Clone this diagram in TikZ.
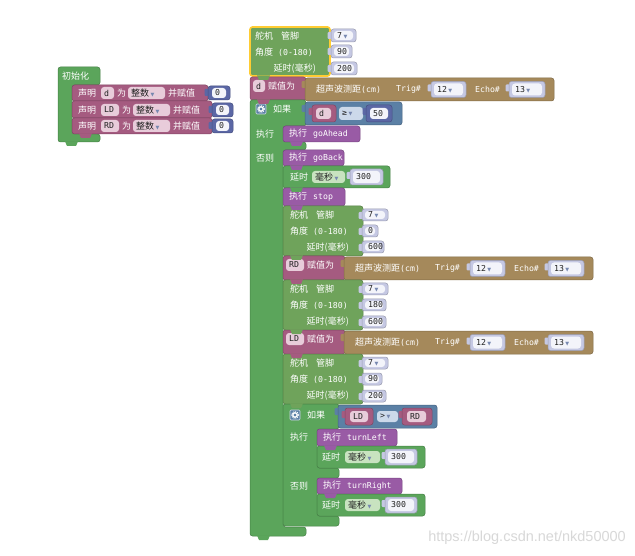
\documentclass[tikz,border=0pt]{standalone}
\usepackage{fontspec}
\setmainfont{DejaVu Sans Mono}
\newfontfamily\cjkfont{Noto Sans CJK SC}
\newfontfamily\symfont{DejaVu Sans}
\newfontfamily\wmfont{Liberation Sans}
\definecolor{grn}{HTML}{5BA55B}
\definecolor{srv}{HTML}{6FA35B}
\definecolor{prc}{HTML}{995BA5}
\definecolor{vr}{HTML}{A55B80}
\definecolor{tn}{HTML}{A5895B}
\definecolor{lgc}{HTML}{5B80A5}
\definecolor{mth}{HTML}{5B67A5}
\definecolor{pil}{HTML}{C5C8E3}
\definecolor{fld}{HTML}{F3F4FA}
\definecolor{vfld}{HTML}{E8CCDA}
\definecolor{gfld}{HTML}{C8E3C0}
\definecolor{cfld}{HTML}{CCD9EA}
\definecolor{arr}{HTML}{7788B0}
\definecolor{txt}{HTML}{222222}
\definecolor{yel}{HTML}{FFCC33}
\definecolor{wm}{HTML}{D8D8D8}
\newcommand\zh[1]{{\cjkfont\fontsize{9}{9}\selectfont #1}}
\newcommand\dd{{\symfont\fontsize{5}{5}\selectfont\textcolor{arr}{▼}}}
\newcounter{nd}
\newcommand\Lab[3]{\stepcounter{nd}\node[lbl] (n\arabic{nd}) at ({#1},{#2}) {#3};}
\newcommand\LabK[3]{\stepcounter{nd}\node[lblk] (n\arabic{nd}) at ({#1},{#2}) {#3};}
\newcommand\LabE[3]{\stepcounter{nd}\node[lble] (n\arabic{nd}) at ({#1},{#2}) {#3};}
\newcommand\Blk[5]{\filldraw[fill=#1, draw=#1!78!black, line width=.5pt, rounded corners=2.5pt] ({#2},{#3}) rectangle ({#4},{#5});}
\newcommand\Bump[3]{\fill[#1, rounded corners=1pt] ({#2-3.5},{#3+3}) rectangle ({#2+1},{#3+10});}
\newcommand\Btab[3]{\fill[#1] ({#2+7},{#3-0.6}) -- ({#2+9},{#3+4}) -- ({#2+18},{#3+4}) -- ({#2+20},{#3-0.6}) -- cycle;}
\newcommand\Fld[6]{\fill[#1, rounded corners=3pt] ({#2},{#3}) rectangle ({#4},{#5});
  \LabK{#2+3}{(#3+#5)/2}{#6}}
\newcommand\Pill[5]{\Bump{pil}{#1}{#2}\Blk{pil}{#1}{#2}{#3}{#4}\Fld{fld}{#1+3}{#2+2}{#3-3}{#4-2}{#5}}
\newcommand\Gear[2]{\filldraw[fill=lgc, draw=white!70!lgc, line width=.6pt, rounded corners=1pt] ({#1},{#2}) rectangle ({#1+10},{#2+10});
  \draw[white, line width=1.3pt] ({#1+5},{#2+5}) circle (2.2pt);
  \draw[white, line width=1pt, dash pattern=on 1pt off 1pt] ({#1+5},{#2+5}) circle (3.4pt);}
\newcommand\Servo[2]{% x y (top-left)
  \Blk{srv}{#1}{#2}{#1+80}{#2+50}
  \Lab{#1+7}{#2+9}{\zh{舵机}\hspace{8pt}\zh{管脚}}
  \Lab{#1+7}{#2+25}{\zh{角度} (0-180)}
  \LabE{#1+66}{#2+42}{\zh{延时(毫秒)}}}
\newcommand\Sonar[2]{% x y of tan block top-left
  \Bump{tn}{#1}{#2}\Blk{tn}{#1}{#2}{#1+249}{#2+23}
  \Lab{#1+11}{#2+11.5}{\zh{超声波测距}(cm)}
  \Lab{#1+91}{#2+11.5}{Trig\#}
  \Pill{#1+126}{#2+3.5}{#1+161}{#2+19.5}{12\,\dd}
  \Lab{#1+170}{#2+11.5}{Echo\#}
  \Pill{#1+204}{#2+3.5}{#1+240}{#2+19.5}{13\,\dd}}
\begin{document}
\begin{tikzpicture}[x=1pt,y=-1pt,
  lbl/.style={anchor=west, inner sep=0pt, text=white, font=\fontsize{8.2}{9}\selectfont},
  lblk/.style={lbl, text=txt},
  lble/.style={lbl, anchor=east}]
\fill[white] (0,0) rectangle (635,556);
\useasboundingbox (0,0) rectangle (635,556);

% ---------- init block ----------
\filldraw[fill=grn, draw=grn!78!black, line width=.5pt, rounded corners=2.5pt]
  (58,67) -- (100,67) -- (100,85) -- (72,85) -- (72,134) -- (100,134) -- (100,142) -- (58,142) -- cycle;
\Lab{62}{76}{\zh{初始化}}
\Blk{vr}{72}{85}{208}{101}
\Lab{78}{93}{\zh{声明}}
\Fld{vfld}{101}{87}{114}{99}{d}
\Lab{117}{93}{\zh{为}}
\Fld{vfld}{128}{87}{165}{99}{\zh{整数}\,\dd}
\Lab{168}{93}{\zh{并赋值}}
\Bump{mth}{208}{86}\Blk{mth}{208}{86}{230}{100}
\Fld{fld}{212}{88}{226}{98}{0}
\Blk{vr}{72}{101}{212}{118}
\Lab{78}{110}{\zh{声明}}
\Fld{vfld}{101}{104}{119}{116}{LD}
\Lab{122}{110}{\zh{为}}
\Fld{vfld}{133}{104}{170}{116}{\zh{整数}\,\dd}
\Lab{173}{110}{\zh{并赋值}}
\Bump{mth}{212}{103}\Blk{mth}{212}{103}{233}{117}
\Fld{fld}{216}{105}{229}{115}{0}
\Blk{vr}{72}{118}{212}{134}
\Lab{78}{126}{\zh{声明}}
\Fld{vfld}{101}{120}{119}{132}{RD}
\Lab{122}{126}{\zh{为}}
\Fld{vfld}{133}{120}{170}{132}{\zh{整数}\,\dd}
\Lab{173}{126}{\zh{并赋值}}
\Bump{mth}{212}{119}\Blk{mth}{212}{119}{233}{133}
\Fld{fld}{216}{121}{229}{131}{0}

% ---------- top servo (selected) ----------
\Blk{srv}{250}{27}{330}{76}
\draw[yel, line width=1.6pt, rounded corners=2.5pt] (250,27) rectangle (330,76);
\Lab{255}{36}{\zh{舵机}\hspace{8pt}\zh{管脚}}
\Lab{255}{52}{\zh{角度} (0-180)}
\LabE{316}{69}{\zh{延时(毫秒)}}
\Pill{331}{29}{356}{42}{7\,\dd}
\Pill{331}{45}{352}{58}{90}
\Pill{331}{62}{357}{75}{200}

% ---------- d = sonar ----------
\Blk{vr}{250}{77}{306}{100}
\Fld{vfld}{253}{80}{265}{92}{d}
\Lab{268}{86}{\zh{赋值为}}
\Sonar{305}{78}

% ---------- outer if ----------
\filldraw[fill=grn, draw=grn!78!black, line width=.5pt, rounded corners=2.5pt]
  (250,100) -- (306,100) -- (306,126) -- (283,126) -- (283,142) -- (306,142) -- (306,150)
  -- (283,150) -- (283,527) -- (306,527) -- (306,536) -- (250,536) -- cycle;
\Gear{256}{104}
\Lab{273}{109}{\zh{如果}}
\Lab{256}{134}{\zh{执行}}
\Lab{256}{158}{\zh{否则}}
\Bump{lgc}{305}{102}\Blk{lgc}{305}{102}{402}{125}
\Bump{vr}{312}{105}\Blk{vr}{312}{105}{336}{122}
\Fld{vfld}{316}{108}{331}{119}{d}
\Fld{cfld}{339}{107}{363}{120}{≥\,\dd}
\Bump{mth}{366}{105}\Blk{mth}{366}{105}{392}{122}
\Fld{fld}{370}{108}{388}{119}{50}

\Blk{prc}{283}{126}{360}{142}
\Lab{289}{134}{\zh{执行}\hspace{6pt}goAhead}
\Blk{prc}{283}{150}{344}{166}
\Lab{289}{158}{\zh{执行}\hspace{6pt}goBack}
\Blk{grn}{283}{166}{390}{188}
\Lab{290}{177}{\zh{延时}}
\Fld{gfld}{312}{171}{345}{183}{\zh{毫秒}\,\dd}
\Pill{350}{169}{383}{185}{300}
\Blk{prc}{283}{188}{345}{206}
\Lab{289}{197}{\zh{执行}\hspace{6pt}stop}

\Servo{283}{206}
\Pill{362}{209}{388}{221}{7\,\dd}
\Pill{362}{225}{378}{237}{0}
\Pill{362}{241}{384}{253}{600}

\Blk{vr}{283}{256}{345}{280}
\Fld{vfld}{286}{259}{304}{271}{RD}
\Lab{307}{265}{\zh{赋值为}}
\Sonar{344}{257}

\Servo{283}{280}
\Pill{362}{283}{388}{295}{7\,\dd}
\Pill{362}{299}{386}{311}{180}
\Pill{362}{316}{386}{328}{600}

\Blk{vr}{283}{330}{345}{354}
\Fld{vfld}{286}{333}{304}{345}{LD}
\Lab{307}{339}{\zh{赋值为}}
\Sonar{344}{331}

\Servo{283}{354}
\Pill{362}{357}{388}{369}{7\,\dd}
\Pill{362}{373}{382}{385}{90}
\Pill{362}{390}{386}{402}{200}

% ---------- inner if ----------
\filldraw[fill=grn, draw=grn!78!black, line width=.5pt, rounded corners=2.5pt]
  (283,404) -- (339,404) -- (339,429) -- (317,429) -- (317,468) -- (339,468) -- (339,478)
  -- (317,478) -- (317,516) -- (339,516) -- (339,526) -- (283,526) -- cycle;
\Gear{290}{410}
\Lab{307}{415}{\zh{如果}}
\Lab{290}{437}{\zh{执行}}
\Lab{290}{486}{\zh{否则}}
\Bump{lgc}{338}{405}\Blk{lgc}{338}{405}{437}{428}
\Bump{vr}{345}{408}\Blk{vr}{345}{408}{373}{425}
\Fld{vfld}{350}{411}{368}{422}{LD}
\Fld{cfld}{377}{411}{398}{422}{>\,\dd}
\Bump{vr}{402}{408}\Blk{vr}{402}{408}{432}{425}
\Fld{vfld}{407}{411}{426}{422}{RD}

\Blk{prc}{317}{429}{397}{446}
\Lab{323}{437}{\zh{执行}\hspace{6pt}turnLeft}
\Blk{grn}{317}{446}{425}{468}
\Lab{322}{457}{\zh{延时}}
\Fld{gfld}{345}{451}{380}{463}{\zh{毫秒}\,\dd}
\Pill{385}{449}{417}{465}{300}

\Blk{prc}{317}{478}{402}{494}
\Lab{323}{486}{\zh{执行}\hspace{6pt}turnRight}
\Blk{grn}{317}{494}{425}{516}
\Lab{322}{505}{\zh{延时}}
\Fld{gfld}{345}{499}{380}{511}{\zh{毫秒}\,\dd}
\Pill{385}{497}{417}{513}{300}

% ---------- bottom tabs ----------
\Btab{grn}{58}{142}
\Btab{vr}{72}{134}
\Btab{srv}{250}{76}
\Btab{vr}{250}{100}
\Btab{prc}{283}{142}
\Btab{prc}{283}{166}
\Btab{grn}{283}{188}
\Btab{prc}{283}{206}
\Btab{srv}{283}{256}
\Btab{vr}{283}{280}
\Btab{srv}{283}{330}
\Btab{vr}{283}{354}
\Btab{srv}{283}{404}
\Btab{prc}{317}{446}
\Btab{prc}{317}{494}
\Btab{grn}{250}{536}

% ---------- watermark ----------
\node[anchor=east, inner sep=0pt, text=wm, font=\wmfont\fontsize{14.5}{15}\selectfont] (wmk) at (626,538) {https://blog.csdn.net/nkd50000};
\end{tikzpicture}
\end{document}
